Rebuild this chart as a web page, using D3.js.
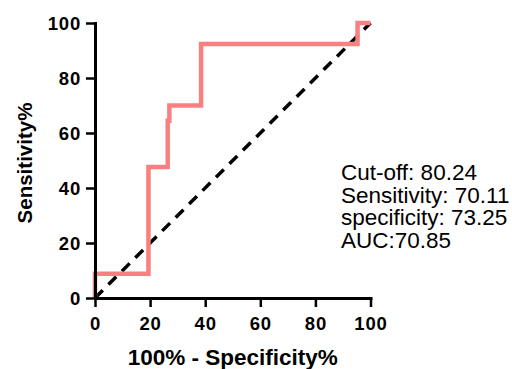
<!DOCTYPE html>
<html>
<head>
<meta charset="utf-8">
<script src="https://cdn.jsdelivr.net/npm/d3@7"></script>
<style>
  html, body { margin: 0; padding: 0; background: #fff; }
  svg { display: block; }
</style>
</head>
<body>
<div id="chart"></div>
<script>
// ROC curve steps (x = 100% - specificity, y = sensitivity)
const rocX = [0, 0, 19.4, 19.4, 26.4, 26.4, 27.0, 27.0, 38.5, 38.5, 95.3, 95.3, 100];
const rocY = [0, 8.8, 8.8, 47.6, 47.6, 64.5, 64.5, 70, 70, 92.4, 92.4, 100, 100];
const refLine = [0, 100];
const ticks = [0, 20, 40, 60, 80, 100];
const infoLines = ["Cut-off: 80.24", "Sensitivity: 70.11", "specificity: 73.25", "AUC:70.85"];

const width = 512, height = 369;
const svg = d3.select("#chart").append("svg")
  .attr("width", width)
  .attr("height", height);

const x = d3.scaleLinear().domain([0, 100]).range([95, 370.5]);
const y = d3.scaleLinear().domain([0, 100]).range([298, 23]);

// diagonal reference
svg.append("line")
  .attr("x1", x(refLine[0])).attr("y1", y(refLine[0]))
  .attr("x2", x(refLine[1])).attr("y2", y(refLine[1]))
  .attr("stroke", "#000")
  .attr("stroke-width", 3.5)
  .attr("stroke-dasharray", "11,8");

// ROC curve
const pts = rocX.map((d, i) => [d, rocY[i]]);
svg.append("path")
  .datum(pts)
  .attr("fill", "none")
  .attr("stroke", "#f88080")
  .attr("stroke-width", 4.5)
  .attr("stroke-linejoin", "miter")
  .attr("d", d3.line().x(d => x(d[0])).y(d => y(d[1])));

// axes
const xAxis = svg.append("g")
  .attr("transform", "translate(0," + y(0) + ")")
  .call(d3.axisBottom(x).tickValues(ticks).tickSize(9).tickSizeOuter(0).tickPadding(10));
const yAxis = svg.append("g")
  .attr("transform", "translate(" + x(0) + ",0)")
  .call(d3.axisLeft(y).tickValues(ticks).tickSize(9).tickSizeOuter(0).tickPadding(5));

[xAxis, yAxis].forEach(g => {
  g.select(".domain").attr("stroke", "#000").attr("stroke-width", 3).attr("stroke-linecap", "square");
  g.selectAll(".tick line").attr("stroke", "#000").attr("stroke-width", 2.5);
  g.selectAll(".tick text")
    .attr("fill", "#000")
    .style("font-family", "Liberation Sans, Arial, sans-serif")
    .style("font-weight", "bold")
    .style("font-size", "18.5px")
    .style("letter-spacing", "0.8px");
});
yAxis.selectAll(".tick text").attr("dy", "0.35em");

// axis titles
svg.append("text")
  .attr("x", (x(0) + x(100)) / 2)
  .attr("y", 365)
  .attr("text-anchor", "middle")
  .style("font-family", "Liberation Sans, Arial, sans-serif")
  .style("font-weight", "bold")
  .style("font-size", "22.5px")
  .text("100% - Specificity%");

svg.append("text")
  .attr("transform", "translate(31.5,163) rotate(-90)")
  .attr("text-anchor", "middle")
  .style("font-family", "Liberation Sans, Arial, sans-serif")
  .style("font-weight", "bold")
  .style("font-size", "20.5px")
  .text("Sensitivity%");

// annotation
svg.append("g").selectAll("text")
  .data(infoLines)
  .enter()
  .append("text")
  .attr("x", 341)
  .attr("y", (d, i) => 180 + i * 22.6)
  .style("font-family", "Liberation Sans, Arial, sans-serif")
  .style("font-size", "22.5px")
  .attr("fill", "#000")
  .text(d => d);
</script>
</body>
</html>
